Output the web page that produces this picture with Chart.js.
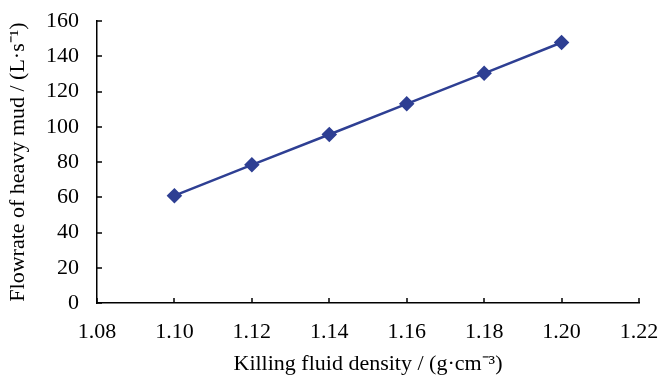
<!DOCTYPE html>
<html>
<head>
  <meta charset="utf-8">
  <title>Flowrate vs killing fluid density</title>
  <script src="https://cdn.jsdelivr.net/npm/chart.js"></script>
  <style>
    html, body { margin: 0; padding: 0; background: #fff; }
    #wrap { width: 660px; height: 377px; }
  </style>
</head>
<body>
  <div id="wrap"><canvas id="chart" width="660" height="377"></canvas></div>

  <script>
    // data
    const density  = [1.10, 1.12, 1.14, 1.16, 1.18, 1.20];
    const flowrate = [60.9, 78.4, 95.6, 113.0, 130.3, 147.8];
    const xTicks = [1.08, 1.10, 1.12, 1.14, 1.16, 1.18, 1.20, 1.22];
    const yTicks = [0, 20, 40, 60, 80, 100, 120, 140, 160];

    const serif = "'Liberation Serif', 'Times New Roman', serif";
    const lineColor = '#2e3f93';

    // small inward tick marks, like the original
    const innerTicks = {
      id: 'innerTicks',
      afterDraw(chart) {
        const ctx = chart.ctx, a = chart.chartArea;
        const xs = chart.scales.x, ys = chart.scales.y;
        ctx.save();
        ctx.strokeStyle = '#000';
        ctx.lineWidth = 1.5;
        ctx.beginPath();
        xTicks.forEach(v => {
          const px = Math.round(xs.getPixelForValue(v));
          ctx.moveTo(px, a.bottom);
          ctx.lineTo(px, a.bottom - 5);
        });
        yTicks.forEach(v => {
          const py = Math.round(ys.getPixelForValue(v));
          ctx.moveTo(a.left, py);
          ctx.lineTo(a.left + 5, py);
        });
        ctx.stroke();
        ctx.restore();
      }
    };

    const points = density.map((d, i) => ({ x: d, y: flowrate[i] }));

    new Chart(document.getElementById('chart'), {
      type: 'scatter',
      data: {
        datasets: [{
          data: points,
          showLine: true,
          borderColor: lineColor,
          backgroundColor: lineColor,
          borderWidth: 2.5,
          pointStyle: 'rectRot',
          pointRadius: 6,
          pointHoverRadius: 6
        }]
      },
      options: {
        responsive: false,
        animation: false,
        layout: { padding: { top: 21, right: 21, bottom: 0, left: 5 } },
        plugins: { legend: { display: false }, tooltip: { enabled: false } },
        scales: {
          x: {
            type: 'linear',
            min: 1.08,
            max: 1.22,
            afterBuildTicks: s => { s.ticks = xTicks.map(v => ({ value: v })); },
            afterFit: s => { s.height = 74; s.paddingLeft = 0; s.paddingRight = 0; },
            grid: { display: false },
            border: { display: true, color: '#000', width: 1.5 },
            ticks: {
              color: '#000',
              padding: 8,
              maxRotation: 0,
              font: { family: serif, size: 22 },
              callback: v => v.toFixed(2)
            },
            title: {
              display: true,
              text: 'Killing fluid density / (g·cm⁻³)',
              color: '#000',
              padding: { top: 4, bottom: 0 },
              font: { family: serif, size: 22 }
            }
          },
          y: {
            min: 0,
            max: 160,
            afterBuildTicks: s => { s.ticks = yTicks.map(v => ({ value: v })); },
            afterFit: s => { s.width = 92; s.paddingTop = 0; s.paddingBottom = 0; },
            grid: { display: false },
            border: { display: true, color: '#000', width: 1.5 },
            ticks: {
              color: '#000',
              padding: 10,
              font: { family: serif, size: 22 }
            },
            title: {
              display: true,
              text: 'Flowrate of heavy mud / (L·s⁻¹)',
              color: '#000',
              padding: { top: 0, bottom: 6 },
              font: { family: serif, size: 22 }
            }
          }
        }
      },
      plugins: [innerTicks]
    });
  </script>
</body>
</html>
